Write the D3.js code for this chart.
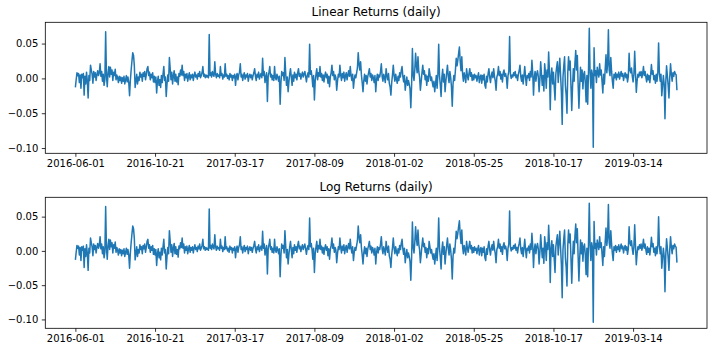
<!DOCTYPE html>
<html>
<head>
<meta charset="utf-8">
<script src="https://cdn.jsdelivr.net/npm/d3@7"></script>
<style>
  body { margin: 0; background: #fff; }
  text { font-family: "DejaVu Sans", sans-serif; fill: #000; }
</style>
</head>
<body>
<svg width="712" height="352"></svg>
<script>
// DAILY LINEAR RETURNS
var linearReturns = [
  -0.013,-0.002,0.008,0.004,0.007,-0.006,0.005,-0.014,0.006,0.001,0.007,-0.024,0.003,-0.008,0.009,-0.004,-0.028,0.004,-0.003,0.019,
  0.012,0.006,-0.007,0.010,0.002,0.008,-0.003,0.005,0.011,0.004,0.008,0.021,0.003,0.010,-0.004,0.006,-0.010,-0.002,0.067,0.004,
  -0.012,0.008,0.017,0.002,0.016,0.006,0.012,-0.003,0.009,0.004,0.013,-0.002,0.005,0.001,-0.006,0.003,-0.003,0.002,-0.007,0.001,
  -0.004,0.003,-0.008,-0.002,0.004,-0.005,0.002,-0.006,-0.025,-0.003,0.012,0.025,0.037,0.033,0.018,-0.013,-0.004,0.006,-0.008,0.002,
  -0.003,0.009,0.002,0.006,-0.004,0.008,0.003,0.010,-0.002,0.005,0.014,0.017,0.004,0.009,-0.002,0.006,0.001,0.008,-0.005,0.003,
  -0.006,0.002,-0.021,-0.004,0.003,-0.010,-0.002,-0.013,0.004,-0.006,0.006,0.017,-0.003,0.002,-0.026,-0.008,0.005,-0.004,0.030,0.014,
  -0.002,0.009,-0.008,0.004,0.011,-0.004,0.006,-0.005,0.002,-0.009,0.007,0.003,0.012,0.005,0.019,0.004,0.010,-0.003,0.006,0.001,
  0.007,-0.004,0.003,0.008,-0.002,0.005,0.001,0.006,-0.003,0.004,0.009,0.002,0.005,-0.001,0.007,0.003,0.010,0.001,0.004,0.008,
  0.017,0.003,0.006,0.001,0.005,0.002,0.004,0.001,0.063,0.004,0.008,0.002,0.010,0.005,0.003,0.024,0.006,0.001,0.007,0.003,
  0.005,0.001,0.017,0.004,0.007,-0.001,0.005,0.002,0.021,0.003,0.006,0.000,0.004,-0.002,0.007,0.002,0.005,-0.003,0.004,0.001,
  0.006,-0.010,0.003,0.007,-0.002,0.005,0.009,0.021,0.002,0.006,-0.003,0.004,0.008,-0.001,0.005,0.002,0.007,-0.004,0.003,0.006,
  0.001,0.005,-0.002,0.004,0.008,0.014,0.003,-0.003,0.006,0.002,0.009,-0.001,0.004,0.007,0.001,0.029,0.004,0.010,-0.006,0.002,
  0.008,-0.033,0.003,0.009,0.017,0.002,0.006,-0.002,0.004,-0.003,0.017,0.001,-0.002,0.006,0.002,-0.004,0.003,-0.037,-0.006,0.010,
  0.004,0.008,-0.003,0.030,0.007,-0.010,0.002,-0.019,-0.005,0.006,0.014,0.002,-0.010,0.005,-0.004,0.009,0.001,0.006,-0.002,0.008,
  0.014,0.003,0.007,-0.001,0.005,0.009,0.002,0.006,0.010,0.003,-0.005,0.004,0.008,0.002,0.049,0.006,0.011,0.002,-0.012,0.004,
  -0.031,-0.004,0.006,0.014,-0.002,0.008,0.003,0.017,0.002,0.007,-0.003,0.005,-0.005,0.004,0.009,0.001,0.006,-0.007,0.003,-0.012,
  0.002,0.008,0.019,0.004,0.010,-0.002,0.005,0.001,-0.017,-0.004,0.006,0.002,0.019,0.005,-0.003,0.007,0.001,0.009,-0.004,0.004,
  0.008,-0.002,0.005,0.011,0.003,0.017,0.004,-0.003,0.006,-0.014,-0.002,0.005,0.001,0.008,0.015,0.037,0.020,0.012,0.024,0.005,
  -0.006,-0.019,-0.003,0.006,-0.004,0.004,-0.008,0.003,0.008,0.014,0.002,0.007,-0.003,0.005,0.001,-0.006,0.004,-0.019,-0.002,0.006,
  -0.003,0.005,0.002,0.010,0.021,0.003,-0.004,0.006,0.001,-0.006,0.014,0.004,-0.002,0.007,-0.007,-0.012,-0.024,-0.006,0.005,0.019,
  0.004,-0.004,0.006,-0.001,-0.007,0.003,-0.003,0.008,0.002,0.011,0.017,0.003,-0.005,0.004,-0.017,-0.006,0.002,-0.010,-0.003,-0.008,
  -0.015,-0.042,-0.010,0.043,0.005,-0.003,0.012,0.036,0.018,0.008,0.031,0.010,0.002,-0.017,-0.005,0.008,0.019,0.006,0.011,-0.002,
  0.005,-0.010,0.003,-0.004,0.014,0.006,-0.003,0.002,-0.006,-0.012,-0.004,-0.019,-0.008,0.004,-0.014,0.006,0.049,0.004,-0.009,-0.026,
  0.002,0.013,-0.005,0.006,-0.019,-0.004,0.008,0.019,0.003,-0.006,0.010,0.002,-0.012,-0.040,-0.008,0.004,-0.003,0.012,0.029,0.018,
  0.026,0.036,0.045,0.024,0.011,0.031,0.006,-0.004,0.008,0.002,-0.006,0.014,0.004,-0.002,0.007,0.014,0.003,0.008,-0.003,0.005,
  -0.002,0.006,0.001,0.004,-0.004,0.003,0.008,-0.006,0.002,0.005,-0.007,0.004,-0.002,0.006,-0.010,-0.014,0.003,-0.005,0.007,0.014,
  0.002,-0.006,0.004,0.009,0.001,0.014,0.003,-0.004,-0.017,0.002,0.006,0.017,0.004,0.010,-0.001,0.006,-0.005,0.008,0.012,0.003,
  0.007,0.001,-0.014,0.004,0.010,0.060,0.006,0.000,0.005,0.002,0.008,0.004,0.010,0.001,0.005,-0.003,0.006,0.011,0.019,0.003,
  -0.004,0.005,-0.008,0.004,0.017,0.002,-0.010,0.004,0.001,0.007,-0.003,0.010,0.002,0.026,0.008,-0.024,0.002,0.010,-0.004,0.006,
  0.011,0.003,-0.019,-0.002,0.024,0.006,-0.010,0.004,-0.018,0.021,0.008,-0.014,0.012,0.002,0.038,0.010,-0.045,0.004,0.015,-0.008,
  0.009,-0.012,-0.031,0.006,0.016,0.024,-0.006,0.012,0.029,0.004,-0.020,-0.066,0.002,0.018,0.031,-0.010,-0.024,-0.050,0.008,0.031,
  0.012,0.025,-0.010,-0.046,-0.012,0.014,-0.004,0.022,0.040,0.012,0.033,-0.008,-0.043,-0.010,0.016,-0.004,0.012,-0.015,0.006,0.010,
  -0.006,-0.034,0.004,-0.037,0.010,0.072,0.008,-0.014,0.012,0.005,-0.099,0.044,0.004,0.011,-0.006,0.016,0.008,0.002,0.021,0.005,
  0.012,-0.004,-0.021,0.006,-0.008,0.014,0.034,0.008,0.020,0.070,0.012,0.004,0.030,0.010,-0.004,-0.014,0.006,0.001,0.008,-0.002,
  0.006,0.002,0.009,-0.001,0.005,0.010,0.003,0.007,-0.003,0.004,0.008,0.001,0.006,-0.005,0.003,0.036,0.012,0.008,0.015,0.003,
  -0.005,0.006,0.039,0.008,-0.020,-0.004,0.006,0.002,0.009,0.004,0.010,0.001,0.007,0.017,0.004,0.010,0.002,-0.005,0.006,-0.002,
  0.004,-0.006,0.005,0.020,0.006,0.011,-0.002,0.004,-0.007,0.006,-0.004,0.008,0.051,0.008,-0.004,0.006,-0.025,-0.010,0.004,-0.008,
  -0.058,-0.006,0.018,0.004,-0.010,-0.028,0.002,0.021,0.006,-0.004,0.008,0.003,0.010,0.007,0.005,-0.017
];

// tick labels, one every 100 trading days
var tickDates = ["2016-06-01", "2016-10-21", "2017-03-17", "2017-08-09",
                 "2018-01-02", "2018-05-25", "2018-10-17", "2019-03-14"];
var yTicks = [-0.10, -0.05, 0.00, 0.05];
var titles = ["Linear Returns (daily)", "Log Returns (daily)"];

// log returns come straight from the linear ones
var logReturns = linearReturns.map(function(r) { return Math.log1p(r); });

var svg = d3.select("svg");
svg.append("rect").attr("width", 712).attr("height", 352).attr("fill", "#fff");

var left = 45.3, right = 707, axH = 131;
var tops = [22.3, 197.3];

// matplotlib-style 5% margins
var n = linearReturns.length;
var x = d3.scaleLinear()
    .domain([-(n - 1) * 0.05, (n - 1) * 1.05])
    .range([left, right]);

function drawPanel(values, top, title) {
  var ext = d3.extent(values), pad = (ext[1] - ext[0]) * 0.05;
  var y = d3.scaleLinear()
      .domain([ext[0] - pad, ext[1] + pad])
      .range([top + axH, top]);

  var g = svg.append("g");

  var line = d3.line()
      .x(function(d, i) { return x(i); })
      .y(function(d) { return y(d); });

  g.append("path")
      .datum(values)
      .attr("d", line)
      .attr("fill", "none")
      .attr("stroke", "#1f77b4")
      .attr("stroke-width", 1.5)
      .attr("stroke-linejoin", "round");

  // frame
  g.append("rect")
      .attr("x", left).attr("y", top)
      .attr("width", right - left).attr("height", axH)
      .attr("fill", "none").attr("stroke", "#000").attr("stroke-width", 0.8);

  var xAxis = g.append("g")
      .attr("transform", "translate(0," + (top + axH) + ")")
      .call(d3.axisBottom(x)
        .tickValues(tickDates.map(function(d, i) { return i * 100; }))
        .tickFormat(function(d, i) { return tickDates[i]; })
        .tickSize(3.5).tickPadding(3.5));

  var yAxis = g.append("g")
      .attr("transform", "translate(" + left + ",0)")
      .call(d3.axisLeft(y).tickValues(yTicks).tickFormat(d3.format(".2f"))
        .tickSize(3.5).tickPadding(3.5));

  [xAxis, yAxis].forEach(function(a) {
    a.select(".domain").remove();
    a.selectAll(".tick line").attr("stroke", "#000").attr("stroke-width", 0.8);
    a.selectAll(".tick text")
        .attr("font-family", "DejaVu Sans, sans-serif")
        .attr("font-size", 10).attr("fill", "#000");
  });

  g.append("text")
      .attr("x", (left + right) / 2)
      .attr("y", top - 6)
      .attr("text-anchor", "middle")
      .attr("font-size", 12)
      .text(title);
}

drawPanel(linearReturns, tops[0], titles[0]);
drawPanel(logReturns, tops[1], titles[1]);
</script>
</body>
</html>
